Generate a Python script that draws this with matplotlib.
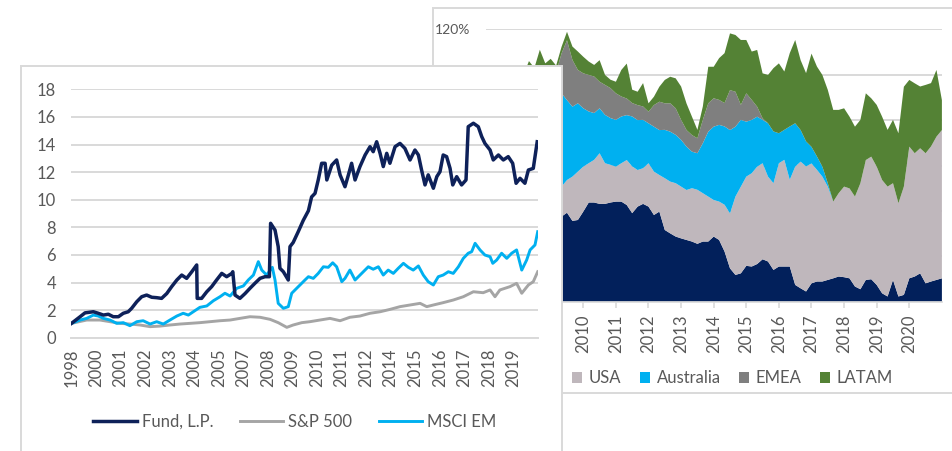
import numpy as np
import matplotlib
matplotlib.use("Agg")
import matplotlib.pyplot as plt
from matplotlib.patches import Rectangle

plt.rcParams["font.family"] = ["Lato", "DejaVu Sans"]

# ---------------- left chart: growth of 1 (category axis) ----------------
tick_years = ['1998', '2000', '2001', '2002', '2003', '2004', '2005', '2007', '2008', '2009',
              '2010', '2011', '2012', '2014', '2015', '2016', '2017', '2018', '2019']

fund_pos = [0.0, 0.35, 0.55, 0.89, 1.09, 1.30, 1.50, 1.70, 1.91, 2.11,
            2.31, 2.45, 2.66, 2.86, 3.06, 3.27, 3.47, 3.67, 3.88, 4.08,
            4.29, 4.49, 4.69, 4.90, 5.10, 5.12, 5.30, 5.51, 5.71, 5.91,
            6.12, 6.32, 6.53, 6.57, 6.66, 6.86, 7.07, 7.27, 7.47, 7.68,
            7.88, 8.06, 8.11, 8.29, 8.42, 8.49, 8.63, 8.83, 8.90, 9.03,
            9.24, 9.44, 9.65, 9.78, 9.92, 10.05, 10.19, 10.33, 10.40, 10.60,
            10.80, 10.94, 11.14, 11.28, 11.41, 11.55, 11.75, 11.96, 12.16, 12.29,
            12.43, 12.57, 12.70, 12.84, 12.97, 13.18, 13.38, 13.58, 13.79, 13.99,
            14.13, 14.26, 14.40, 14.53, 14.74, 14.88, 15.01, 15.14, 15.28, 15.42,
            15.53, 15.69, 15.89, 16.07, 16.16, 16.37, 16.57, 16.71, 16.84, 17.05,
            17.18, 17.39, 17.59, 17.79, 17.97, 18.11, 18.27, 18.47, 18.61, 18.81,
            18.97]
fund_val = [1.04, 1.52, 1.8, 1.88, 1.77, 1.64, 1.7, 1.52, 1.52, 1.77,
            1.88, 2.13, 2.61, 2.97, 3.09, 2.93, 2.9, 2.85, 3.2, 3.7,
            4.18, 4.54, 4.3, 4.78, 5.27, 2.85, 2.85, 3.33, 3.7, 4.18,
            4.66, 4.42, 4.66, 4.78, 3.09, 2.85, 3.2, 3.58, 3.94, 4.3,
            4.42, 4.42, 8.29, 7.8, 6.6, 5.03, 4.78, 4.18, 6.6, 6.9,
            7.7, 8.5, 9.2, 10.2, 10.46, 11.43, 12.64, 12.64, 11.43, 12.5,
            12.88, 11.8, 10.94, 11.8, 12.64, 11.43, 12.4, 13.24, 13.84, 13.48,
            14.2, 13.36, 12.4, 13.36, 12.64, 13.84, 14.08, 13.72, 12.88, 13.6,
            13.24, 12.15, 11.07, 11.8, 10.83, 11.67, 12.03, 13.24, 13.12, 12.27,
            11.07, 11.67, 11.07, 11.43, 15.29, 15.54, 15.29, 14.57, 14.08, 13.6,
            12.88, 13.24, 12.88, 13.12, 12.64, 11.19, 11.55, 11.19, 12.15, 12.27,
            14.2]

em_pos = [0.0, 0.35, 0.62, 0.89, 1.09, 1.30, 1.57, 1.84, 2.11, 2.38,
          2.66, 2.92, 3.20, 3.47, 3.74, 4.01, 4.29, 4.55, 4.76, 4.96,
          5.23, 5.51, 5.78, 6.05, 6.25, 6.46, 6.73, 7.00, 7.20, 7.41,
          7.61, 7.75, 7.95, 8.18, 8.29, 8.42, 8.63, 8.83, 8.97, 9.24,
          9.51, 9.65, 9.85, 10.05, 10.26, 10.46, 10.64, 10.80, 11.01, 11.14,
          11.34, 11.55, 11.82, 12.09, 12.29, 12.50, 12.70, 12.90, 13.11, 13.31,
          13.52, 13.72, 13.92, 14.13, 14.33, 14.53, 14.74, 14.94, 15.14, 15.35,
          15.55, 15.76, 15.96, 16.16, 16.30, 16.44, 16.64, 16.84, 17.05, 17.16,
          17.32, 17.52, 17.73, 17.93, 18.13, 18.34, 18.54, 18.68, 18.88, 18.99]
em_val = [1.04, 1.28, 1.4, 1.64, 1.57, 1.4, 1.28, 1.04, 1.09, 0.87,
          1.16, 1.23, 0.99, 1.16, 0.99, 1.28, 1.57, 1.77, 1.64, 1.88,
          2.2, 2.3, 2.68, 2.97, 3.22, 3.02, 3.58, 3.75, 4.18, 4.54,
          5.51, 4.9, 4.54, 5.1, 4.18, 2.49, 2.13, 2.25, 3.22, 3.7,
          4.18, 4.42, 4.3, 4.66, 5.14, 5.1, 5.43, 5.14, 4.06, 4.3,
          4.9, 4.18, 4.66, 5.14, 4.96, 5.14, 4.54, 4.9, 4.66, 5.03,
          5.39, 5.1, 4.9, 5.2, 4.54, 4.06, 3.82, 4.42, 4.54, 4.78,
          4.66, 5.14, 5.75, 6.12, 6.23, 6.84, 6.36, 5.99, 5.87, 5.39,
          5.63, 6.12, 5.75, 6.12, 6.36, 4.9, 5.63, 6.36, 6.72, 7.68]

sp_pos = [0.0, 0.62, 1.16, 1.57, 1.98, 2.38, 2.79, 3.20, 3.60, 4.01,
          4.42, 4.83, 5.23, 5.64, 6.05, 6.46, 6.86, 7.27, 7.68, 8.09,
          8.42, 8.77, 9.03, 9.38, 9.71, 10.12, 10.53, 10.94, 11.34, 11.75,
          12.16, 12.57, 12.97, 13.38, 13.79, 14.20, 14.47, 14.74, 15.14, 15.55,
          15.96, 16.37, 16.77, 17.05, 17.25, 17.45, 17.86, 18.13, 18.34, 18.61,
          18.81, 18.99]
sp_val = [1.04, 1.28, 1.28, 1.16, 1.04, 0.99, 0.92, 0.8, 0.84, 0.92,
          0.99, 1.04, 1.09, 1.16, 1.23, 1.28, 1.4, 1.52, 1.48, 1.33,
          1.09, 0.75, 0.92, 1.09, 1.16, 1.28, 1.4, 1.23, 1.48, 1.57,
          1.77, 1.88, 2.05, 2.25, 2.37, 2.49, 2.25, 2.37, 2.54, 2.73,
          2.97, 3.33, 3.26, 3.46, 2.97, 3.46, 3.7, 3.94, 3.22, 3.82,
          4.06, 4.78]

# ---------------- right chart: regional split (stacked %) ----------------
year_start, year_end, n_obs = 2008.0, 2021.0, 79
region_base = [40, 41, 40, 39, 40, 38, 38, 37,
               37.5, 39.2, 35.6, 36.0, 39.7, 43.7, 43.7, 43.1, 43.1, 43.7,
               44.1, 44.1, 42.6, 39.0, 41.9, 43.1, 41.9, 38.2, 39.7, 31.6,
               30.1, 28.7, 27.9, 27.2, 26.5, 25.5, 26.5, 26.5, 28.7, 27.2,
               22.1, 14.7, 11.8, 12.5, 15.8, 15.5, 16.6, 18.7, 17.7, 14.0,
               15.5, 15.5, 15.5, 7.4, 5.9, 4.5, 8.1, 8.9, 8.9, 9.6,
               10.3, 11.1, 10.8, 10.3, 6.7, 5.5, 9.6, 9.9, 7.4, 3.7,
               2.3, 9.6, 2.3, 3.0, 10.3, 11.1, 12.5, 8.1, 8.9, 9.6, 10.3]
usa = [12, 12, 13, 13, 12, 13, 14, 14,
       13.2, 14.4, 19.5, 21.3, 19.8, 17.3, 18.8, 22.3, 17.9, 16.6,
       15.4, 16.9, 19.8, 20.6, 16.1, 15.7, 19.1, 19.1, 16.1, 22.8,
       22.8, 23.5, 22.8, 22.0, 23.5, 23.8, 21.3, 19.8, 16.1, 16.9,
       20.6, 24.2, 34.5, 38.2, 39.3, 41.1, 42.9, 42.3, 37.4, 38.2,
       45.5, 47.0, 38.2, 52.1, 55.8, 55.1, 52.8, 49.2, 46.2, 41.1,
       33.8, 36.7, 39.9, 39.6, 39.6, 46.7, 52.8, 54.0, 52.1, 49.9,
       48.4, 42.6, 41.1, 47.7, 58.0, 54.3, 55.1, 57.3, 59.5, 63.1, 65.3]
australia = [30, 32, 33, 34, 35, 34, 36, 38,
             41.1, 35.2, 30.8, 30.1, 25.7, 22.8, 20.6, 19.8, 21.3, 20.6,
             20.6, 20.6, 19.8, 22.0, 22.0, 21.3, 17.6, 19.8, 19.8, 21.3,
             22.0, 21.3, 20.6, 19.1, 16.1, 16.1, 22.0, 28.6, 32.3, 33.8,
             34.5, 36.7, 30.8, 29.4, 24.2, 23.5, 22.0, 19.1, 23.5, 22.8,
             13.2, 13.2, 23.5, 19.1, 13.9, 11.0, 7.3, 5.9, 4.4, 1.5,
             0, 0, 0, 0, 0, 0, 0, 0, 0, 0,
             0, 0, 0, 0, 0, 0, 0, 0, 0, 0, 0]
emea = [10, 11, 12, 12, 14, 13, 14, 12,
        17.6, 26.4, 20.6, 14.7, 15.4, 16.1, 16.1, 11.7, 13.2, 13.2,
        11.7, 8.8, 7.3, 5.9, 6.6, 5.9, 5.1, 9.5, 12.5, 11.7,
        12.5, 11.7, 8.8, 7.3, 7.3, 6.6, 10.3, 12.5, 12.5, 11.0,
        10.3, 17.6, 15.4, 6.6, 12.5, 8.8, 4.4, 0.7, 0, 0,
        0, 0, 0, 0, 0, 0, 0, 0, 0, 0,
        0, 0, 0, 0, 0, 0, 0, 0, 0, 0,
        0, 0, 0, 0, 0, 0, 0, 0, 0, 0, 0]
latam = [3, 4, 8, 5, 10, 7, 5, 3,
         2.9, 3.7, 5.9, 8.1, 7.3, 5.9, 5.1, 9.5, 4.4, 3.7,
         5.1, 11.7, 15.4, 5.9, 5.9, 10.3, 3.7, 3.7, 6.6, 10.3,
         11.7, 13.2, 14.7, 11.7, 8.1, 3.7, 5.9, 16.1, 13.9, 18.4,
         22.0, 25.0, 25.0, 28.6, 23.5, 21.3, 25.0, 19.8, 21.3, 27.9,
         30.8, 25.7, 32.3, 36.7, 30.8, 30.1, 41.1, 39.6, 40.4, 41.1,
         40.4, 36.7, 34.5, 31.6, 30.8, 27.9, 29.4, 25.7, 27.2, 27.9,
         25.0, 27.9, 30.8, 44.0, 29.4, 30.8, 27.2, 30.1, 27.9, 29.4, 13.2]
region_names = ['USA', 'Australia', 'EMEA', 'LATAM']

W, H = 953, 451
GRID = '#D9D9D9'
TXT = '#595959'


def box(x0, y0, x1, y1):
    # pixel box (top-left origin) -> figure fraction
    return [x0 / W, 1 - y1 / H, (x1 - x0) / W, (y1 - y0) / H]


fig = plt.figure(figsize=(W / 100, H / 100), dpi=100)

# back panel frame
fig.add_artist(Rectangle((433.3 / W, 1 - 393.3 / H), 0.6, (393.3 - 7.5) / H,
                         transform=fig.transFigure, fc='white', ec=GRID, lw=1.4, zorder=-1))

axR = fig.add_axes(box(485.5, 29.3, 941.9, 301.7))
axR.set_zorder(0)
years = np.linspace(year_start, year_end, n_obs)
polys = axR.stackplot(years, region_base, usa, australia, emea, latam,
                      colors=['#02205B', '#BFB7BC', '#00B0F0', '#7F7F7F', '#548235'], lw=0)
axR.set_xlim(2007, 2021)
axR.set_ylim(0, 120)
axR.set_yticks(range(0, 121, 20))
axR.set_yticklabels([f'{v}%' for v in range(0, 121, 20)])
axR.yaxis.grid(True, color=GRID, lw=1.4)
axR.set_axisbelow(True)
axR.set_xticks(range(2010, 2021))
axR.set_xticklabels([str(y) for y in range(2010, 2021)], rotation=90)
axR.tick_params(axis='x', length=4, color=GRID, width=1.2, pad=5, labelsize=12, labelcolor=TXT)
axR.tick_params(axis='y', length=0, pad=11, labelsize=10, labelcolor=TXT)
for s in ['left', 'right', 'top']:
    axR.spines[s].set_visible(False)
axR.spines['bottom'].set_color(GRID)
axR.spines['bottom'].set_linewidth(1.2)
axR.legend(handles=polys[1:], labels=region_names, loc='center',
           bbox_to_anchor=(732.5 / W, 1 - 378.3 / H), bbox_transform=fig.transFigure,
           ncol=4, frameon=False, fontsize=12, labelcolor=TXT,
           handlelength=0.6, handleheight=0.6, handletextpad=0.4, columnspacing=1.1)

# front panel
fig.add_artist(Rectangle((21.5 / W, -0.05), (561.7 - 21.5) / W, 1 - 66 / H + 0.05,
                         transform=fig.transFigure, fc='white', ec=GRID, lw=1.4, zorder=1))

axL = fig.add_axes(box(71.5, 89.3, 537.7, 337.7))
axL.set_zorder(2)
axL.patch.set_visible(False)
sp_line, = axL.plot(sp_pos, sp_val, color='#A5A5A5', lw=2.1, label='S&P 500')
em_line, = axL.plot(em_pos, em_val, color='#00B0F0', lw=2.1, label='MSCI EM')
fund_line, = axL.plot(fund_pos, fund_val, color='#0E2159', lw=2.5, label='Fund, L.P.')
axL.set_xlim(0, 18.99)
axL.set_ylim(0, 18)
axL.set_yticks(range(0, 19, 2))
axL.set_xticks(range(len(tick_years)))
axL.set_xticklabels(tick_years, rotation=90)
axL.yaxis.grid(True, color=GRID, lw=1.4)
axL.set_axisbelow(True)
axL.tick_params(axis='x', length=0, pad=8, labelsize=12, labelcolor=TXT)
axL.tick_params(axis='y', length=0, pad=11, labelsize=12, labelcolor=TXT)
for s in ['left', 'right', 'top']:
    axL.spines[s].set_visible(False)
axL.spines['bottom'].set_color(GRID)
axL.spines['bottom'].set_linewidth(1.4)
axL.legend(handles=[fund_line, sp_line, em_line], loc='center',
           bbox_to_anchor=(295 / W, 1 - 422 / H), bbox_transform=fig.transFigure,
           ncol=3, frameon=False, fontsize=12, labelcolor=TXT,
           handlelength=2.6, handletextpad=0.3, columnspacing=1.6)

fig.savefig('out.png', dpi=100)
